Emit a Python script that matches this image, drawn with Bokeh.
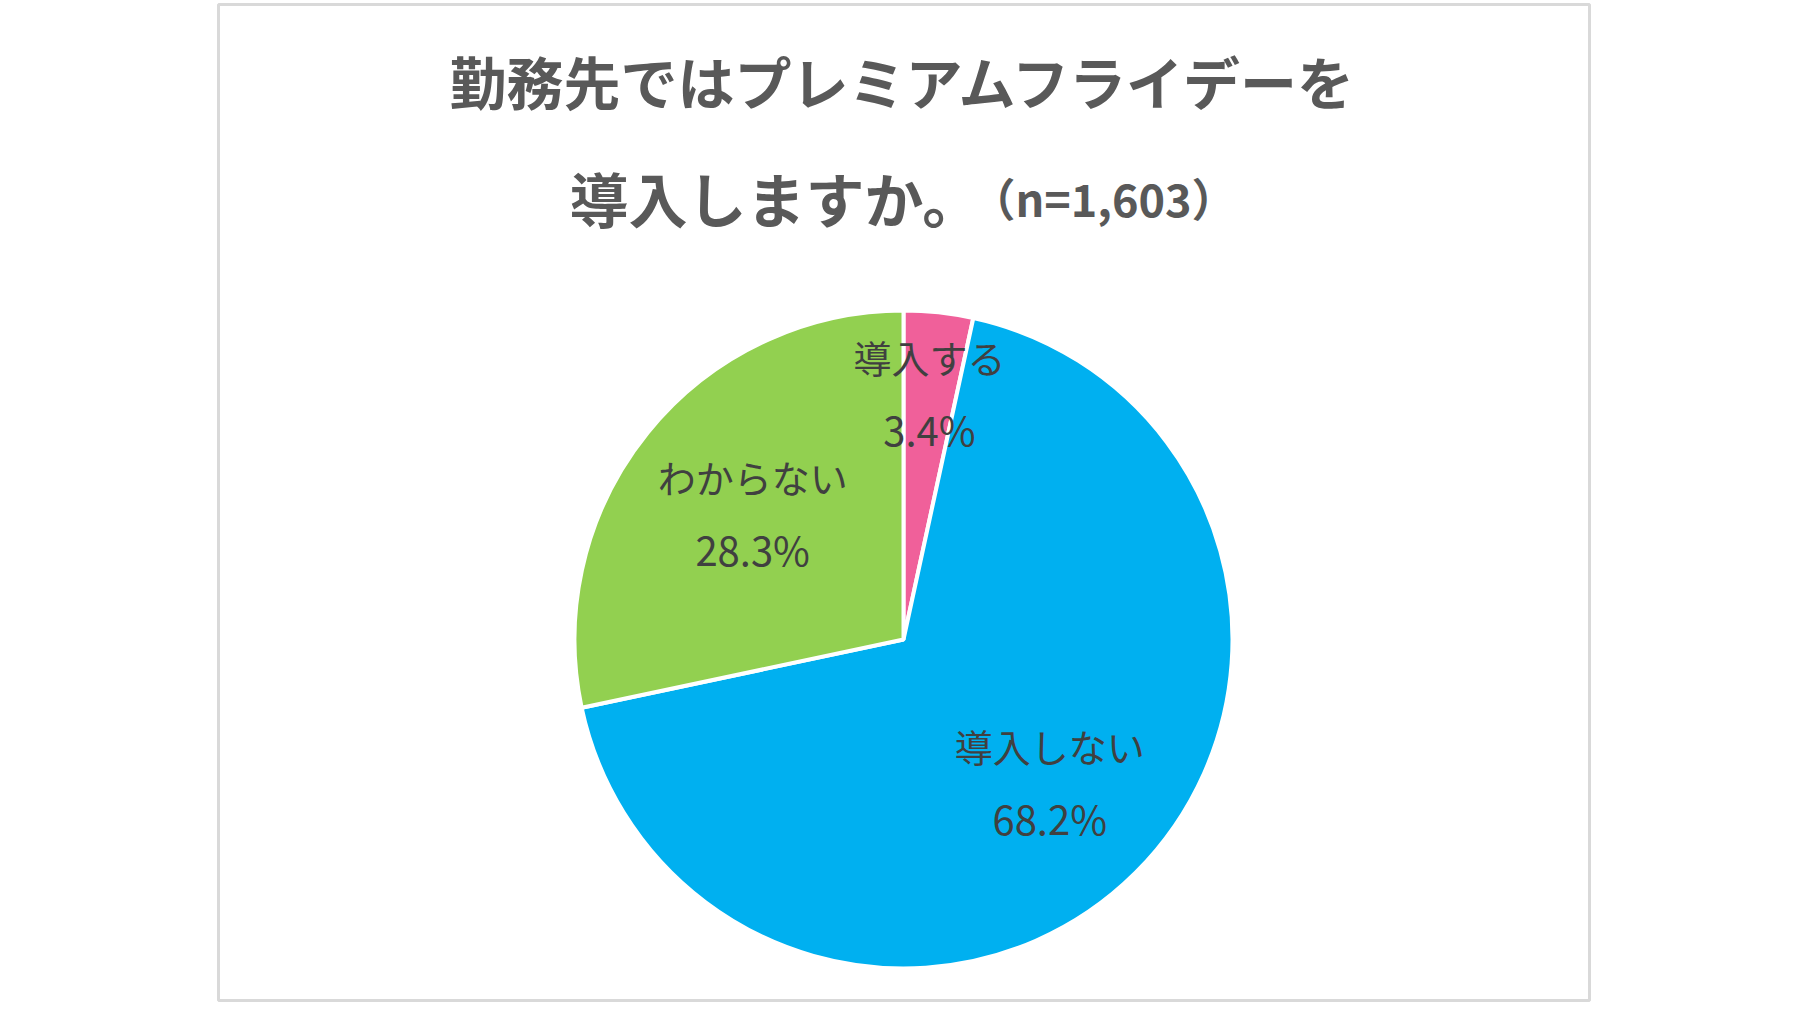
import numpy as np
from bokeh.plotting import figure
from bokeh.models import Range1d, ColumnDataSource
from bokeh.core.properties import value
from bokeh.embed import file_html
from bokeh.resources import INLINE

# Dane z wykresu
labels = ["導入する", "導入しない", "わからない"]
percents = [3.4, 68.2, 28.3]
colors = ["#F0609A", "#00B0F0", "#92D050"]
title_line1 = "勤務先ではプレミアムフライデーを"
title_line2 = "導入しますか。"
title_n = "（n=1,603）"

FONT = "Noto Sans CJK JP"
W, H = 1791, 1002


def Y(y_ref):
    # os y liczona od gory, jak na obrazku
    return H - y_ref


p = figure(width=W, height=H, output_backend="svg", toolbar_location=None,
           x_range=Range1d(0, W), y_range=Range1d(0, H),
           x_axis_location=None, y_axis_location=None, min_border=0)
p.grid.visible = False
p.outline_line_color = None
p.background_fill_color = "white"

# ramka
p.quad(left=[218], right=[1589], bottom=[Y(1000)], top=[Y(4)],
       fill_color=None, line_color="#D9D9D9", line_width=3)

# kolowy, od godziny 12 zgodnie z ruchem wskazowek
frac = np.array(percents) / sum(percents)
cum = np.concatenate([[0], np.cumsum(frac)])
start = np.pi / 2 - 2 * np.pi * cum[:-1]
end = np.pi / 2 - 2 * np.pi * cum[1:]
cx, cy, r = 903, Y(639), 329
src = ColumnDataSource(dict(start=start, end=end, color=colors))
p.wedge(x=cx, y=cy, radius=r, start_angle="start", end_angle="end",
        direction="clock", fill_color="color", line_color="white",
        line_width=4, source=src)

# etykiety wewnatrz wycinkow
mid = (start + end) / 2
rfrac = [0.74, 0.63, 0.59]
lx = cx + r * np.array(rfrac) * np.cos(mid)
ly = cy + r * np.array(rfrac) * np.sin(mid) + 5
pct_txt = [f"{v:.1f}%" for v in percents]
p.text(lx, ly + 36, text=labels, text_font=value(FONT), text_font_size="38px",
       text_color="#404040", text_align="center", text_baseline="middle")
p.text(lx, ly - 37, text=pct_txt, text_font=value(FONT), text_font_size="40px",
       text_color="#404040", text_align="center", text_baseline="middle")

# tytul
p.text([905], [Y(79)], text=[title_line1], text_font=value(FONT),
       text_font_size="57px", text_font_style="bold", text_color="#595959",
       text_align="center", text_baseline="middle")
p.text([569], [Y(197)], text=[title_line2], text_font=value(FONT),
       text_font_size="59px", text_font_style="bold", text_color="#595959",
       text_align="left", text_baseline="middle")
p.text([1103], [Y(197)], text=[title_n], text_font=value(FONT),
       text_font_size="45px", text_font_style="bold", text_color="#595959",
       text_align="center", text_baseline="middle")

open("out.html", "w").write(file_html(p, INLINE))
